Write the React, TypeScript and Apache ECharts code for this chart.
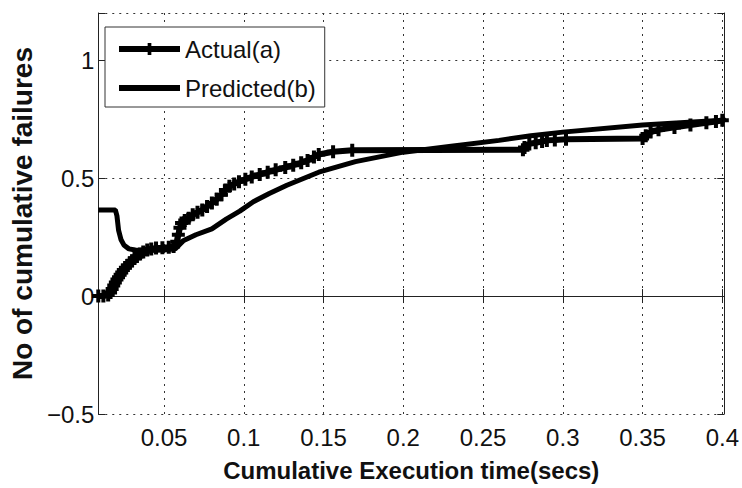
import React, { useEffect, useRef } from "react";
import * as echarts from "echarts";

// Cumulative execution time (secs) vs. no. of cumulative failures
const actualX = [
  0.0088, 0.012, 0.015, 0.0165, 0.0175, 0.0185, 0.0195, 0.0205, 0.0215, 0.0225,
  0.0235, 0.0245, 0.0258, 0.027, 0.0285, 0.03, 0.0315, 0.033, 0.035, 0.037,
  0.0395, 0.042, 0.045, 0.049, 0.053, 0.056, 0.058, 0.059, 0.06, 0.061,
  0.063, 0.0655, 0.068, 0.071, 0.074, 0.077, 0.08, 0.083, 0.086, 0.0885,
  0.091, 0.094, 0.097, 0.101, 0.105, 0.11, 0.115, 0.12, 0.126, 0.131,
  0.136, 0.14, 0.144, 0.147, 0.156, 0.168, 0.275, 0.276, 0.279, 0.283,
  0.287, 0.29, 0.295, 0.302, 0.35, 0.352, 0.355, 0.36, 0.37, 0.38,
  0.39, 0.396, 0.4, 0.402,
];
const actualY = [
  0.0, 0.0, 0.004, 0.015, 0.03, 0.045, 0.058, 0.07, 0.08, 0.09,
  0.1, 0.11, 0.12, 0.13, 0.14, 0.15, 0.16, 0.168, 0.178, 0.187,
  0.195, 0.2, 0.204, 0.205, 0.207, 0.21, 0.23, 0.26, 0.29, 0.31,
  0.32, 0.33, 0.345, 0.355, 0.365, 0.38, 0.395, 0.41, 0.43, 0.45,
  0.465, 0.475, 0.485, 0.495, 0.505, 0.515, 0.525, 0.535, 0.545, 0.555,
  0.565, 0.575, 0.59, 0.6, 0.612, 0.618, 0.62, 0.63, 0.645, 0.65,
  0.655, 0.66, 0.662, 0.665, 0.668, 0.68, 0.695, 0.705, 0.715, 0.725,
  0.735, 0.74, 0.745, 0.755,
];
const predictedX = [
  0.0088, 0.0195, 0.0205, 0.0215, 0.023, 0.025, 0.028, 0.032, 0.04, 0.05,
  0.057, 0.062, 0.07, 0.08, 0.089, 0.0975, 0.106, 0.116, 0.127, 0.147,
  0.17, 0.2, 0.23, 0.26, 0.28, 0.3, 0.35, 0.4, 0.402,
];
const predictedY = [
  0.365, 0.365, 0.34, 0.28, 0.24, 0.215, 0.2, 0.195, 0.193, 0.195,
  0.2, 0.234, 0.26, 0.285, 0.326, 0.36, 0.4, 0.435, 0.47, 0.525,
  0.57, 0.61, 0.635, 0.66, 0.68, 0.695, 0.725, 0.745, 0.75,
];
const seriesNames = ["Actual(a)", "Predicted(b)"];
const xTickStep = 0.05;
const yTickStep = 0.5;

const PLUS =
  "path://M-2,-6.5 H2 V-2 H6.5 V2 H2 V6.5 H-2 V2 H-6.5 V-2 H-2 Z";
// a tiny dot inside a larger (empty) bounding box
const DOT = "path://M-10,-10 L-10,-9.9 M10,10 L10,9.9 M-1,-1 H1 V1 H-1 Z";
const SANS = '"Liberation Sans", Arial, sans-serif';

const isMultiple = (v: number, step: number) =>
  Math.abs(v / step - Math.round(v / step)) < 1e-6;
const fmt = (v: number, step: number) =>
  isMultiple(v, step) ? String(+v.toFixed(2)).replace("-", "\u2212") : "";

export default function App() {
  const ref = useRef<HTMLDivElement>(null);
  useEffect(() => {
    if (!ref.current) return;
    const chart = echarts.init(ref.current, undefined, { renderer: "svg" });
    const axisLine = { show: true, lineStyle: { color: "#222", width: 1 } };
    const tick = { show: true, inside: true, length: 7, lineStyle: { color: "#222" } };
    const split = { show: true, lineStyle: { color: "#333", type: [2, 5], width: 1 } };
    const xCommon = {
      type: "value",
      min: 0.0088,
      max: 0.4012,
      minInterval: xTickStep,
      maxInterval: xTickStep,
      axisLine,
      axisTick: tick,
    };
    const yCommon = {
      type: "value",
      min: -0.5,
      max: 1.2,
      interval: yTickStep,
      axisLine,
      axisTick: tick,
    };
    chart.setOption({
      animation: false,
      backgroundColor: "#fff",
      grid: { left: 94, right: 16, top: 13, bottom: 74, containLabel: false },
      legend: {
        data: seriesNames,
        orient: "vertical",
        left: 105,
        top: 27,
        padding: [10, 9, 7, 11],
        itemWidth: 61,
        itemHeight: 15,
        itemGap: 15,
        backgroundColor: "#fff",
        borderColor: "#333",
        borderWidth: 1,
        borderRadius: 0,
        lineStyle: { width: 6 },
        textStyle: { fontSize: 24, fontFamily: SANS, color: "#111" },
      },
      xAxis: [
        {
          ...xCommon,
          position: "bottom",
          splitLine: split,
          axisLabel: {
            show: true,
            margin: 11,
            fontSize: 24,
            fontFamily: SANS,
            color: "#111",
            formatter: (v: number) => fmt(v, xTickStep),
          },
          name: "Cumulative Execution time(secs)",
          nameLocation: "middle",
          nameGap: 44,
          nameTextStyle: { fontSize: 24, fontWeight: "bold", fontFamily: SANS, color: "#111" },
        },
        {
          ...xCommon,
          position: "top",
          splitLine: { show: false },
          axisLabel: { show: false },
        },
      ],
      yAxis: [
        {
          ...yCommon,
          position: "left",
          splitLine: split,
          axisLabel: {
            show: true,
            margin: 4,
            fontSize: 24,
            fontFamily: SANS,
            color: "#111",
            formatter: (v: number) => fmt(v, yTickStep),
          },
          name: "No of cumulative failures",
          nameLocation: "middle",
          nameGap: 56,
          nameTextStyle: { fontSize: 28, fontWeight: "bold", fontFamily: SANS, color: "#111" },
        },
        {
          ...yCommon,
          position: "right",
          splitLine: { show: false },
          axisLabel: { show: false },
        },
      ],
      series: [
        {
          name: seriesNames[0],
          type: "line",
          xAxisIndex: 0,
          yAxisIndex: 0,
          data: actualX.map((x, i) => [x, actualY[i]]),
          symbol: PLUS,
          symbolSize: 13,
          showSymbol: true,
          color: "#000",
          itemStyle: { color: "#000" },
          lineStyle: { color: "#000", width: 6 },
        },
        {
          name: seriesNames[1],
          type: "line",
          xAxisIndex: 0,
          yAxisIndex: 0,
          data: predictedX.map((x, i) => [x, predictedY[i]]),
          symbol: DOT,
          symbolSize: 5,
          showSymbol: false,
          color: "#000",
          itemStyle: { color: "#000" },
          lineStyle: { color: "#000", width: 5 },
        },
      ],
    });
    return () => chart.dispose();
  }, []);
  return (
    <div
      ref={ref}
      style={{ position: "absolute", left: 0, top: 0, width: 742, height: 488 }}
    />
  );
}
